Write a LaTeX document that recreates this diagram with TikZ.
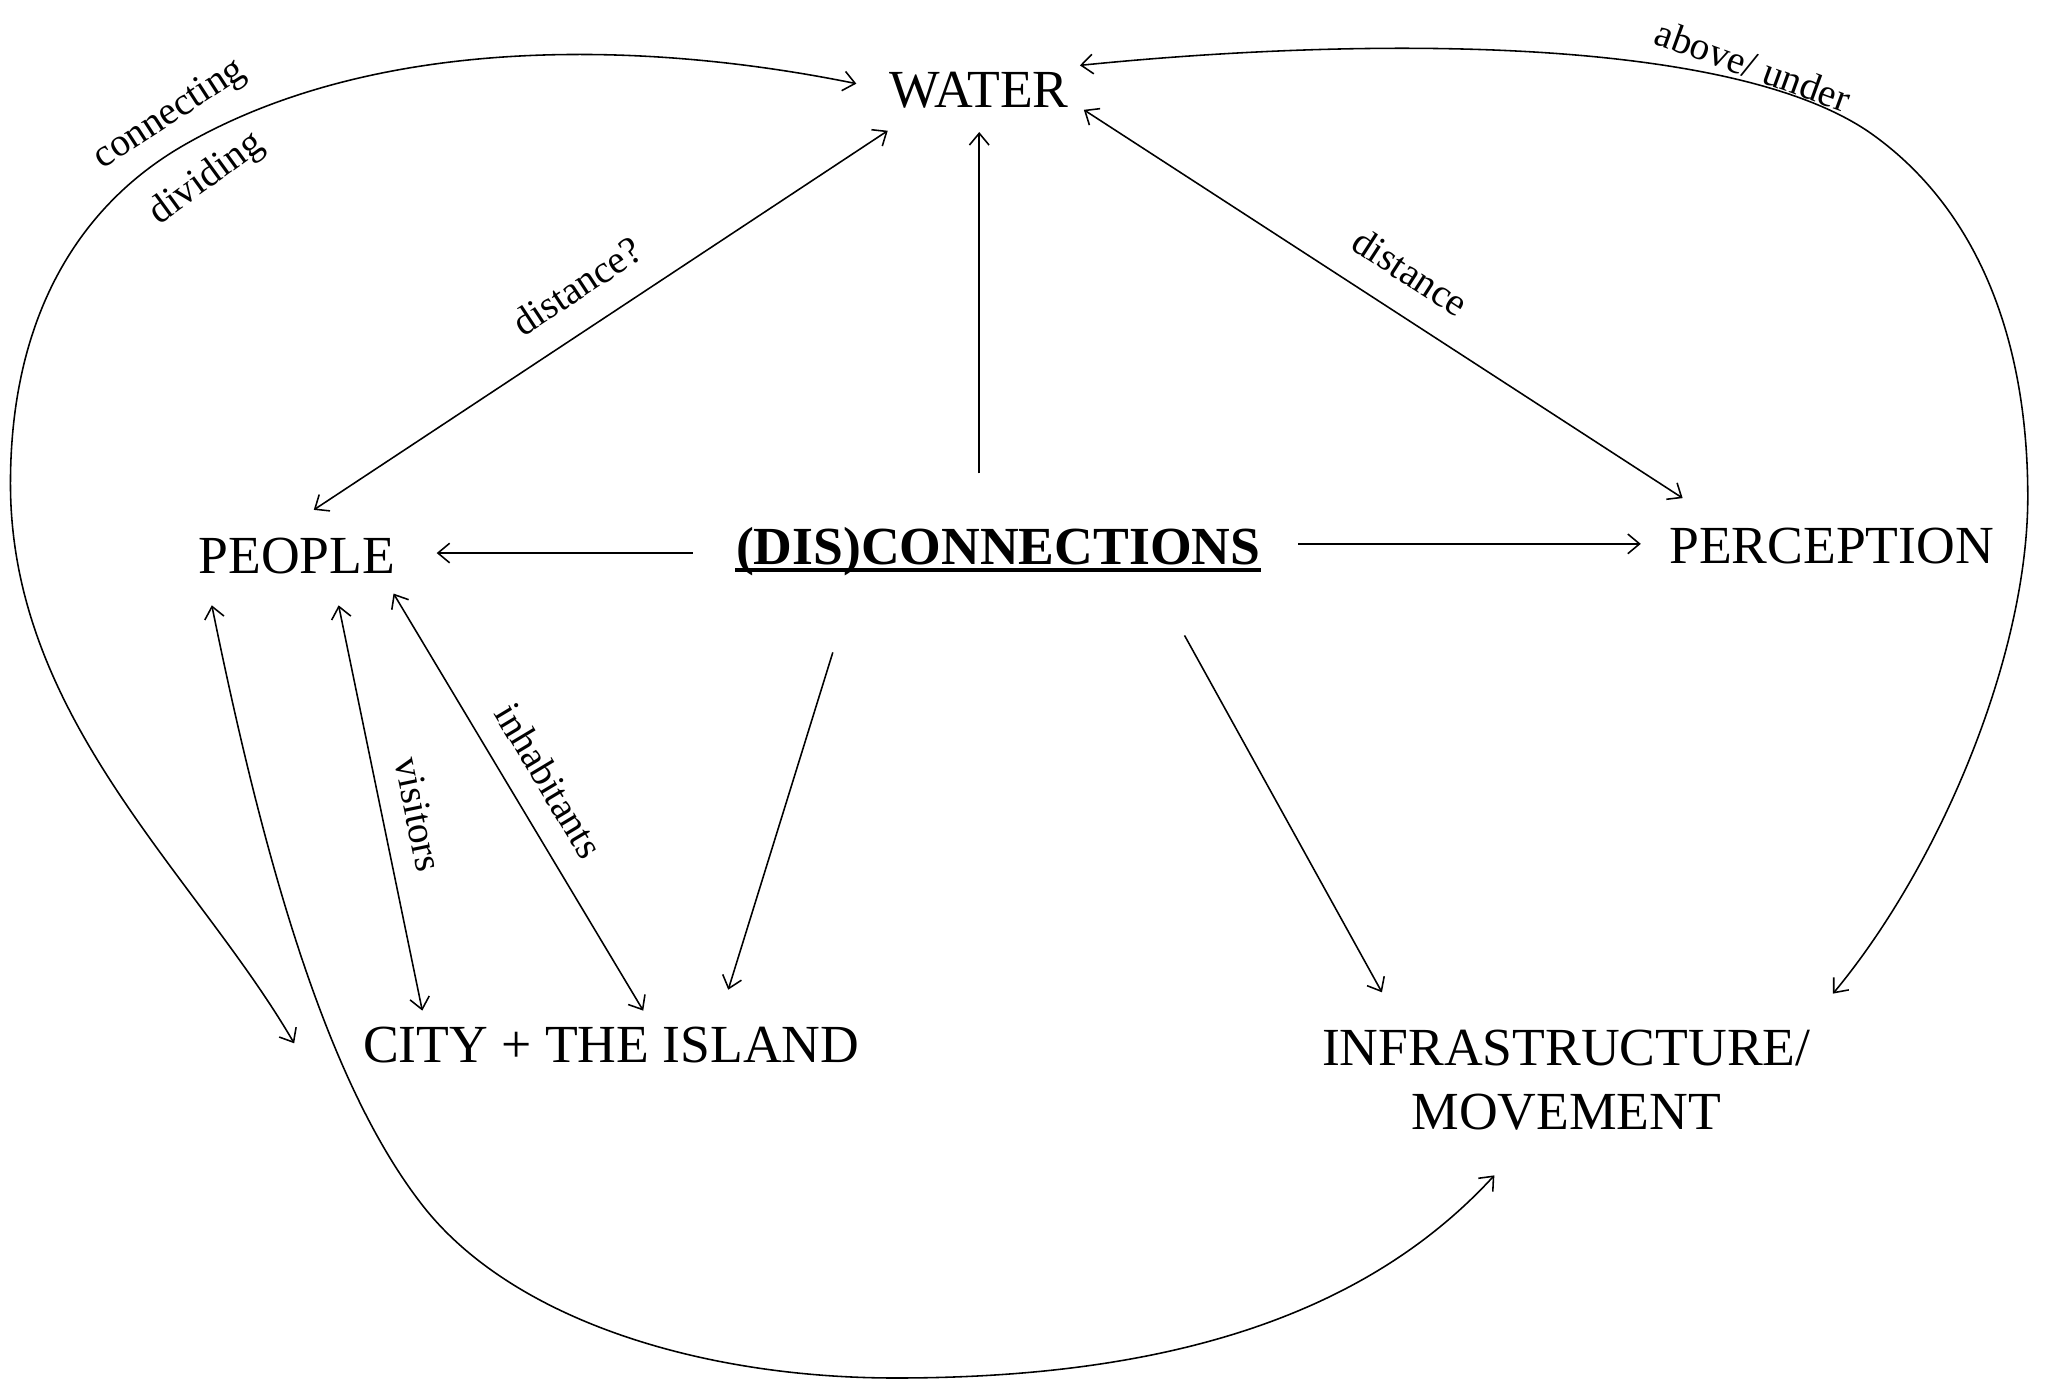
\documentclass[tikz,border=0pt]{standalone}
\usepackage{fontspec}
\setmainfont{Liberation Serif}
\usetikzlibrary{arrows.meta,calc}
\begin{document}
\begin{tikzpicture}[x=1pt,y=-1pt,
  line width=1.2pt,
  tipb/.tip={Straight Barb[length=9pt,width=15pt]},
  arr/.style={-tipb},
  darr/.style={tipb-tipb},
  box/.style={inner sep=0pt, font=\fontsize{41}{49}\selectfont},
  lab/.style={inner sep=0pt, font=\fontsize{30}{36}\selectfont}]
\useasboundingbox (0,0) rectangle (1568,1056);
\fill[white] (0,0) rectangle (1568,1056);

% main nodes
\node[box, anchor=base] (water) at (749,82) {WATER};
\node[box, anchor=base] (people) at (227,439) {PEOPLE};
\node[box, anchor=base, font=\fontsize{41}{49}\selectfont\bfseries] (disc) at (763.5,432) {(DIS)CONNECTIONS};
\node[box, anchor=base] (perc) at (1401,431) {PERCEPTION};
\node[box, anchor=base] (city) at (467.5,813) {CITY + THE ISLAND};
\node[box, anchor=north, align=center] (infra) at (1198,787) {INFRASTRUCTURE/\\MOVEMENT};

% underline
\draw[line width=2.5pt] ($(disc.base west)+(0,4)$) -- ($(disc.base east)+(0,4)$);

% straight connectors
\draw[arr] ($(disc.base)+(-14.5,-70)$) -- ($(water.base)+(0,19)$);
\draw[arr] ($(disc.base)+(-233.5,-9)$) -- ($(people.base)+(107,-16)$);
\draw[arr] ($(disc.base)+(229.5,-16)$) -- ($(perc.base)+(-146,-15)$);
\draw[arr] ($(disc.base)+(-126.5,67)$) -- ($(city.base)+(89.5,-56)$);
\draw[arr] ($(disc.base)+(142.5,54)$) -- ($(infra.north)+(-141,-28)$);
\draw[darr] ($(water.base)+(-70,18)$) -- ($(people.base)+(13,-49)$);
\draw[darr] ($(water.base)+(80,2)$) -- ($(perc.base)+(-114,-50)$);
\draw[darr] ($(people.base)+(32,24)$) -- ($(city.base)+(-144.5,-40)$);
\draw[darr] ($(people.base)+(74,15)$) -- ($(city.base)+(24.5,-40)$);

% curved connectors
\draw[darr] ($(water.base)+(-94,-18)$) .. controls (488,30) and (285,27) .. (139,112)
  .. controls (62,157) and (8,240) .. (8,370)
  .. controls (8,550) and (150,669) .. ($(city.base)+(-242.5,-15)$);
\draw[darr] ($(water.base)+(77,-32)$) .. controls (1044,28) and (1324,27) .. (1431,102)
  .. controls (1513,160) and (1551,260) .. (1551,380)
  .. controls (1551,500) and (1485,660) .. ($(infra.north)+(204,-27)$);
\draw[darr] ($(people.base)+(-65,24)$) .. controls (202,659) and (250,829) .. (324,923)
  .. controls (392,1009) and (535,1054) .. (685,1054)
  .. controls (885,1054) and (1041,1010) .. ($(infra.north)+(-55,112)$);

% labels
\node[lab, rotate=33] (lconn) at (130,88) {connecting};
\node[lab, rotate=36] (ldiv) at (158,137) {dividing};
\node[lab, rotate=33.4] (ldistq) at (441,219) {distance?};
\node[lab, rotate=-33] (ldist) at (1079,208) {distance};
\node[lab, rotate=-78.3] (lvis) at (320,623) {visitors};
\node[lab, rotate=-59] (linh) at (420,597) {inhabitants};
\node[lab, rotate=-20] (labove) at (1341,50) {above/ under};
\end{tikzpicture}
\end{document}
